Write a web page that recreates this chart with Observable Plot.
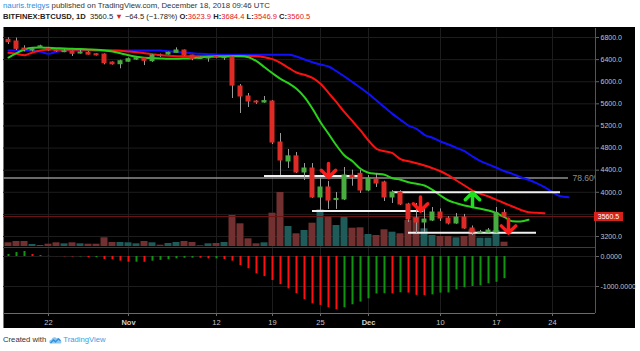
<!DOCTYPE html>
<html><head><meta charset="utf-8">
<script src="https://cdn.jsdelivr.net/npm/d3@7"></script>
<script src="https://cdn.jsdelivr.net/npm/@observablehq/plot@0.6"></script>
<style>
html,body{margin:0;padding:0;background:#fff;}
body{width:640px;height:351px;position:relative;overflow:hidden;font-family:"Liberation Sans",Arial,sans-serif;}
#bg{position:absolute;left:3px;top:27px;width:632px;height:301px;background:#000;border-left:1px solid #777;box-sizing:border-box;}
#h1{position:absolute;left:3px;top:1px;font-size:7.8px;color:#333;white-space:nowrap;}
#h2{position:absolute;left:3px;top:12px;font-size:7.6px;color:#222;white-space:nowrap;}
.r{color:#e0201a}
.k{font-weight:bold;color:#222}
#foot{position:absolute;left:3px;top:335px;font-size:7.7px;color:#333;white-space:nowrap;display:flex;align-items:center;gap:1px;}
#lastbox{position:absolute;left:594px;width:29px;height:9px;background:#d8201c;color:#fff;font-size:7px;line-height:9px;text-align:center;}
</style></head><body>
<div id="h1"></div><div id="h2"></div><div id="bg"></div>
<div id="foot">Created with&nbsp;<svg width="13" height="8" viewBox="0 0 13 8"><path d="M1 7.5 C-0.5 6 0.5 3.5 2.5 3.8 C3 1 6.5 0.5 7.5 2.5 C9 1.5 11 2.5 10.8 4 C12.8 4.3 13 7.5 11 7.5 Z" fill="#8cc8f0"/><path d="M1.5 7 L4.5 4 L6.5 5.8 L9.5 2.8 L11.5 4.8" stroke="#2f8fdd" stroke-width="1.3" fill="none"/></svg><span style="color:#3a9ee5">TradingView</span></div>
<script>
// ---------- DATA ----------
const firstDay = "2018-10-17"; // one candle per day, Oct 17 .. Dec 18, 2018
const opens  = [6758,6728,6600,6565,6613,6590,6565,6535,6547,6510,6523,6498,6492,6347,6317,6362,6400,6420,6372,6480,6492,6523,6565,6474,6410,6420,6445,6425,6440,5914,5733,5642,5624,5642,4900,4557,4650,4358,4430,3906,4087,3860,3870,4300,4334,4032,4231,4177,3906,3996,3779,3525,3453,3489,3634,3525,3435,3543,3345,3270,3272,3272,3623.9];
const highs  = [6795,6790,6650,6610,6660,6610,6575,6580,6560,6570,6545,6510,6505,6360,6390,6430,6445,6430,6490,6500,6535,6613,6575,6480,6445,6450,6460,6450,6460,5950,5787,5660,5733,5660,5063,4774,4720,4520,4520,4250,4195,3996,4448,4400,4394,4304,4340,4200,4030,4030,3800,3797,3706,3725,3700,3560,3616,3600,3390,3310,3345,3725,3684.4];
const lows   = [6673,6565,6540,6540,6600,6550,6530,6525,6456,6500,6480,6465,6306,6300,6234,6350,6385,6292,6350,6440,6480,6515,6460,6380,6400,6353,6415,6385,5697,5425,5534,5590,5610,4864,4304,4430,4340,4213,3890,3670,3690,3690,3850,4110,3978,4010,4087,3833,3797,3760,3453,3255,3272,3470,3471,3410,3420,3330,3218,3245,3265,3260,3546.9];
const closes = [6715,6595,6575,6590,6640,6565,6548,6550,6505,6529,6490,6476,6335,6315,6371,6408,6426,6378,6474,6470,6523,6565,6474,6414,6432,6440,6435,6440,5930,5733,5642,5624,5650,4900,4575,4650,4358,4430,3906,4087,3850,3880,4304,4270,4032,4249,4159,3906,3996,3779,3507,3453,3507,3634,3525,3435,3543,3345,3272,3276,3308,3625,3560.5];
const volumes = [3700,5000,5000,2000,1000,2300,3700,2700,3700,2700,2300,2300,8700,4000,4000,3700,2700,5000,3700,1300,3000,4000,5000,4000,700,2700,3000,4000,31000,22700,7700,2700,3700,33300,54000,20000,12700,16000,23300,36700,30000,21000,29300,18300,18700,12000,11000,16700,14300,12700,26000,29000,17700,11000,10000,10000,8700,10000,16700,8300,8300,16000,4300];
const aoValues = [67,133,167,67,33,10,-3,-10,-15,-15,-40,-40,-100,-110,-155,-190,-190,-192,-155,-130,-110,-80,-58,-55,-57,-80,-80,-100,-155,-300,-410,-580,-670,-800,-940,-1080,-1240,-1440,-1580,-1630,-1710,-1780,-1710,-1610,-1520,-1410,-1250,-1240,-1245,-1210,-1220,-1295,-1305,-1280,-1220,-1215,-1110,-1040,-1000,-980,-910,-860,-740];
// Alligator lines (shifted forward), daily values from Oct 17
const jawValues = [6565,6565,6565,6559,6540,6504,6540,6565,6565,6565,6565,6565,6565,6565,6565,6565,6565,6565,6565,6565,6553,6540,6529,6516,6504,6498,6492,6486,6486,6486,6486,6486,6486,6486,6486,6486,6456,6402,6353,6312,6275,6190,6094,5992,5890,5781,5660,5539,5419,5311,5208,5148,5040,4986,4919,4864,4804,4743,4647,4562,4503,4443,4381,4334,4273,4226,4165,4092,4002,3929,3911];
const teethValues = [6523,6505,6480,6529,6565,6583,6583,6577,6577,6577,6577,6571,6571,6565,6559,6546,6535,6516,6498,6480,6468,6462,6462,6462,6462,6462,6462,6462,6465,6465,6465,6462,6444,6408,6342,6252,6167,6125,6071,5962,5800,5630,5449,5286,5118,4937,4786,4743,4707,4600,4562,4526,4484,4436,4381,4304,4213,4123,4032,3972,3924,3864,3802,3743,3683,3640,3629,3622];
const lipsValues = [6438,6516,6583,6613,6619,6613,6607,6600,6595,6590,6583,6577,6565,6546,6516,6480,6450,6433,6427,6420,6415,6415,6420,6427,6440,6450,6456,6456,6460,6462,6444,6372,6263,6154,6052,5973,5872,5720,5510,5268,5058,4846,4665,4562,4425,4352,4334,4316,4255,4226,4183,4154,4123,4045,3942,3851,3802,3761,3730,3701,3670,3622,3549,3477,3471,3502];
const priceTicks = [3200,3600,4000,4400,4800,5200,5600,6000,6400,6800];
const aoTicks = [0,-1000];
const dateTicks = ["2018-10-22","2018-11-01","2018-11-12","2018-11-19","2018-11-25","2018-12-01","2018-12-10","2018-12-17","2018-12-24"];
const dateTickLabels = ["22","Nov","12","19","25","Dec","10","17","24"];
// drawn horizontal levels
const levelStarts = ["2018-11-18T00:00Z","2018-12-04T00:00Z","2018-11-24T00:00Z","2018-12-06T00:00Z"];
const levelEnds   = ["2018-11-29T18:00Z","2018-12-25T00:00Z","2018-12-07T22:00Z","2018-12-22T00:00Z"];
const levelPrices = [4295,4000,3661,3267];
// drawn arrows (tip position)
const arrowDates  = ["2018-11-26T00:00Z","2018-12-07T12:00Z","2018-12-14T00:00Z","2018-12-18T12:00Z"];
const arrowPrices = [4267,3661,3996,3262];
const arrowDirs   = ["down","down","up","down"];
const fibPrice = 4258, fibLabel = "78.60%", fibEnd = "2018-12-26T00:00Z", fibLabelAt = "2018-12-26T12:00Z";
const symbol = "BITFINEX:BTCUSD, 1D";
const author = "nauris.treigys";
const published = "published on TradingView.com, December 18, 2018 09:46 UTC";

// ---------- BUILD ----------
const t0 = new Date(firstDay + "T00:00:00Z");
const day = i => d3.utcDay.offset(t0, i);
const candles = opens.map((o, i) => ({
  date: day(i), open: o, high: highs[i], low: lows[i], close: closes[i],
  volume: volumes[i], ao: aoValues[i], up: closes[i] >= o,
  aoUp: i === 0 || aoValues[i] >= aoValues[i - 1]
}));
const jaw = jawValues.map((v, i) => ({date: day(i), value: v}));
const teeth = teethValues.map((v, i) => ({date: day(i), value: v}));
const lips = lipsValues.map((v, i) => ({date: day(i), value: v}));
const ticks = dateTicks.map((d, i) => ({date: new Date(d + "T00:00:00Z"), label: dateTickLabels[i], month: isNaN(+dateTickLabels[i])}));
const levels = levelPrices.map((p, i) => ({price: p, start: new Date(levelStarts[i]), end: new Date(levelEnds[i])}));
const arrows = arrowPrices.map((p, i) => ({price: p, date: new Date(arrowDates[i]), dir: arrowDirs[i]}));

const last = candles[candles.length - 1], prev = candles[candles.length - 2];
const chg = last.close - prev.close;
document.getElementById("h1").innerHTML = `<span style="color:#2f8fdd">${author}</span> ${published}`;
document.getElementById("h2").innerHTML =
  `<span class="k">${symbol}</span>&nbsp; ${last.close.toFixed(1)} <span class="r">▼</span> −${Math.abs(chg).toFixed(1)} (−${Math.abs(chg / prev.close * 100).toFixed(2)}%) ` +
  `<span class="k">O:</span><span class="r">${last.open.toFixed(1)}</span> <span class="k">H:</span><span class="r">${last.high.toFixed(1)}</span> ` +
  `<span class="k">L:</span><span class="r">${last.low.toFixed(1)}</span> <span class="k">C:</span><span class="r">${last.close.toFixed(1)}</span>`;

const W = 640, ML = 3, MR = 45;
const xDomain = [new Date("2018-10-16T09:00:00Z"), new Date("2018-12-29T09:00:00Z")];
const xs = () => ({type: "utc", domain: xDomain, axis: null});
const priceDomain = [2983, 6963];
const st = {background: "transparent", fontFamily: "Liberation Sans, Arial, sans-serif", fontSize: "7px", color: "#c4c4c4", overflow: "visible"};
const GRID = "#1d1d1d";
const x1f = d => d3.utcHour.offset(d.date, -12), x2f = d => d3.utcHour.offset(d.date, 12);
function place(el, top) { el.style.position = "absolute"; el.style.left = "0px"; el.style.top = top + "px"; document.body.appendChild(el); }
// the price tag on the axis hides the tick label next to the last price
const labelTicks = priceTicks.filter(t => Math.abs(t - last.close) > 150);

// grid (bottom layer)
place(Plot.plot({
  width: W, height: 221, marginLeft: ML, marginRight: MR, marginTop: 1, marginBottom: 0,
  x: xs(), y: {domain: priceDomain, axis: null}, style: st,
  marks: [
    Plot.ruleY(priceTicks, {stroke: GRID}),
    Plot.ruleX(ticks, {x: "date", stroke: GRID})
  ]
}), 27);

// volume overlay
place(Plot.plot({
  width: W, height: 219, marginLeft: ML, marginRight: MR, marginTop: 0, marginBottom: 0,
  x: xs(), y: {domain: [0, 219000], axis: null}, style: st,
  marks: [
    Plot.rect(candles, {x1: x1f, x2: x2f, y1: () => 0, y2: "volume", fill: d => d.up ? "#1f5b59" : "#733030", insetLeft: 0.5, insetRight: 0.5})
  ]
}), 27);

// price pane
const price = Plot.plot({
  width: W, height: 221, marginLeft: ML, marginRight: MR, marginTop: 1, marginBottom: 0,
  x: xs(), y: {domain: priceDomain, axis: null}, style: st,
  marks: [
    Plot.ruleY([{price: fibPrice, start: xDomain[0], end: new Date(fibEnd)}], {y: "price", x1: "start", x2: "end", stroke: "#8e8e8e", strokeWidth: 1.5}),
    Plot.text([{price: fibPrice, at: new Date(fibLabelAt), label: fibLabel}], {x: "at", y: "price", text: "label", textAnchor: "start", fill: "#8e8e8e", fontSize: 8.5, clip: true}),
    Plot.ruleY([last.close], {stroke: "#6e1616"}),
    Plot.line(jaw, {x: "date", y: "value", stroke: "#1010ff", strokeWidth: 2, curve: "monotone-x"}),
    Plot.line(teeth, {x: "date", y: "value", stroke: "#ff1010", strokeWidth: 2, curve: "monotone-x"}),
    Plot.line(lips, {x: "date", y: "value", stroke: "#2ad11a", strokeWidth: 2, curve: "monotone-x"}),
    Plot.ruleY(levels, {y: "price", x1: "start", x2: "end", stroke: "#f0f0f0", strokeWidth: 2}),
    Plot.ruleX(candles, {x: "date", y1: "low", y2: "high", stroke: "#9a9a9a"}),
    Plot.rect(candles, {x1: x1f, x2: x2f, y1: "open", y2: "close", fill: d => d.up ? "#46ad3e" : "#de2b25", insetLeft: 1.5, insetRight: 1.5, insetTop: -0.5, insetBottom: -0.5}),
    Plot.vector(arrows, {x: "date", y: "price", length: 14, rotate: d => d.dir === "up" ? 0 : 180, anchor: "end", shape: "arrow", r: 9, stroke: d => d.dir === "up" ? "#1fe01f" : "#ff1a1a", strokeWidth: 3.5}),
    Plot.axisY(labelTicks, {anchor: "right", label: null, tickFormat: d => d.toFixed(1), tickSize: 3, tickPadding: 2, fontSize: 7, fill: "#c4c4c4", stroke: "#666"}),
    Plot.ruleX([xDomain[1]], {stroke: "#555"})
  ]
});
place(price, 27);

// last price tag on the axis
const tag = document.createElement("div");
tag.id = "lastbox"; tag.textContent = last.close.toFixed(1);
tag.style.top = (27 + price.scale("y").apply(last.close) - 4.5) + "px";
document.body.appendChild(tag);

// Awesome oscillator pane
place(Plot.plot({
  width: W, height: 67, marginLeft: ML, marginRight: MR, marginTop: 1, marginBottom: 0,
  x: xs(), y: {domain: [-1900, 300], axis: null, label: null}, style: st,
  marks: [
    Plot.ruleY(aoTicks, {stroke: GRID}),
    Plot.ruleX(ticks, {x: "date", stroke: GRID}),
    Plot.ruleY([300], {stroke: "#3c3c3c"}),
    Plot.ruleX(candles, {x: "date", y1: () => 0, y2: "ao", stroke: d => d.aoUp ? "#0e960e" : "#ff1010", strokeWidth: 2}),
    Plot.axisY(aoTicks, {anchor: "right", label: null, tickFormat: d => d.toFixed(4), tickSize: 3, tickPadding: 2, fontSize: 7, fill: "#c4c4c4", stroke: "#666"}),
    Plot.ruleX([xDomain[1]], {stroke: "#555"})
  ]
}), 246);

// date axis
place(Plot.plot({
  width: W, height: 16, marginLeft: ML, marginRight: MR, marginTop: 1, marginBottom: 0,
  x: xs(), y: {domain: [0, 1], axis: null}, style: st,
  marks: [
    Plot.ruleY([1], {stroke: "#6a6a6a"}),
    Plot.ruleX(ticks, {x: "date", y1: () => 1, y2: () => 0.8, stroke: "#6a6a6a"}),
    Plot.text(ticks.filter(d => !d.month), {x: "date", y: () => 0.4, text: "label", fill: "#c4c4c4", fontSize: 7.5}),
    Plot.text(ticks.filter(d => d.month), {x: "date", y: () => 0.4, text: "label", fill: "#d0d0d0", fontSize: 7.5, fontWeight: "bold"})
  ]
}), 312);
</script>
</body></html>
